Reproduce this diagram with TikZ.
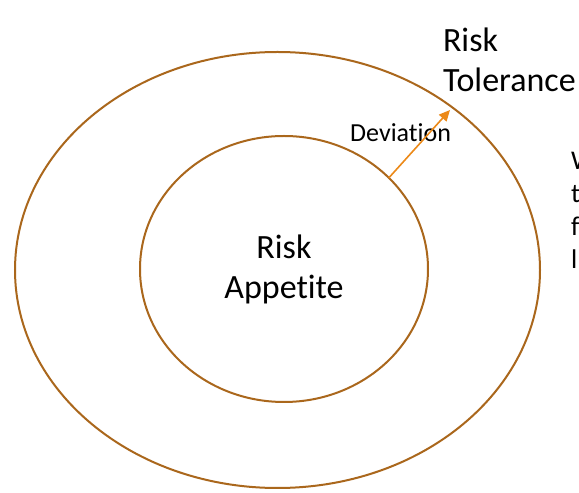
\documentclass[tikz,border=0pt]{standalone}
\usepackage{fontspec}
\setmainfont{Carlito}[Ligatures=NoCommon]
\usetikzlibrary{shapes.geometric,arrows.meta}

\begin{document}
\begin{tikzpicture}[x=1pt,y=1pt,
  ring/.style={draw=ringColor,line width=2pt,ellipse,inner sep=0pt},
  bigtext/.style={font=\fontsize{34}{40}\selectfont,align=center,inner sep=0pt, outer sep=0pt}]
\definecolor{ringColor}{RGB}{170,103,28}
\definecolor{arrowColor}{RGB}{236,137,24}
\definecolor{drawColor}{RGB}{0,0,0}
\useasboundingbox[fill=white] (0,0) rectangle (579,493);

% the two rings
\node[ring,minimum width=525,minimum height=436] (tolerance) at (277.5,223) {};
\node[ring,minimum width=288,minimum height=266,bigtext] (appetite) at (284,224) {Risk\\Appetite};

% labels
\node[text=drawColor,bigtext,align=left,anchor=base west] (toltext) at (443,401) {Risk\\Tolerance};
\node[text=drawColor,anchor=base west,inner sep=0pt,font=\fontsize{26}{30}\selectfont] (devtext) at (350,351) {Deviation};
\node[text=drawColor,anchor=base west,inner sep=0pt,align=left,font=\fontsize{27}{33}\selectfont] (cuttext) at (571,224) {W\\t\\f\\l};

% deviation arrow
\coordinate (devtip) at (450,383);
\draw[draw=arrowColor,line width=1.6pt,-{Triangle[length=11pt,width=10pt]}] (appetite.41) -- (devtip);
\end{tikzpicture}
\end{document}
